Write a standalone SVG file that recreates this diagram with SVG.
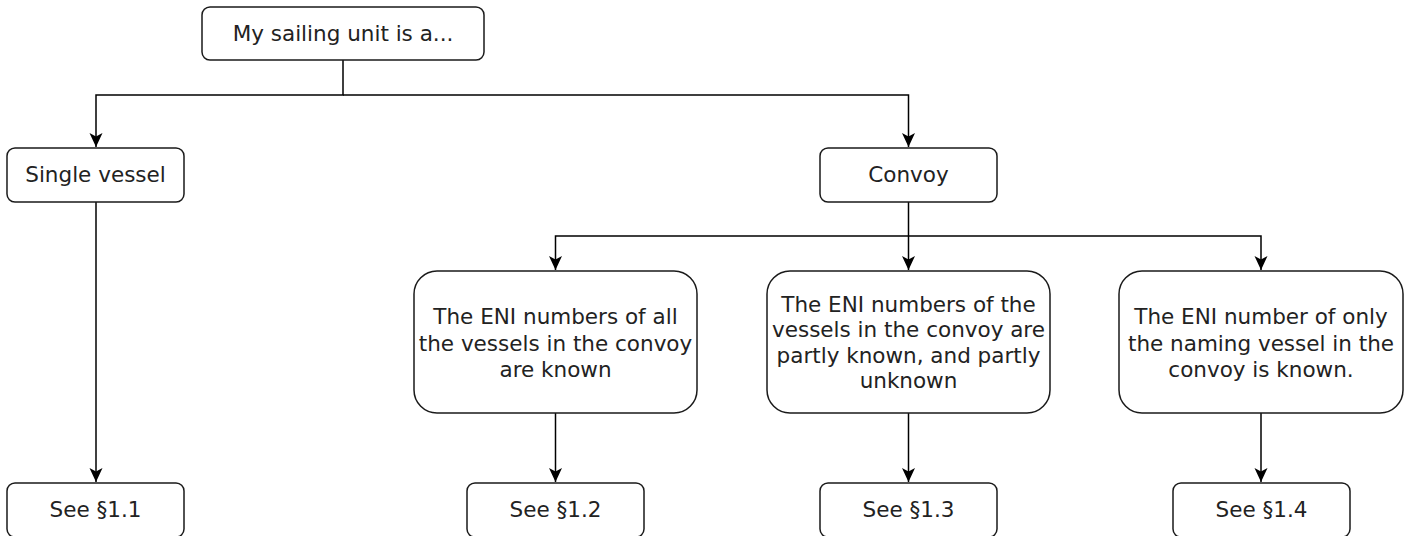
<svg xmlns="http://www.w3.org/2000/svg" width="1409" height="536" viewBox="0 0 1409 536">
<style>
.box{fill:#ffffff;stroke:#1a1a1a;stroke-width:1.5}
.t{font-family:"DejaVu Sans",Verdana,sans-serif;font-size:21.5px;fill:#222222;text-anchor:middle}
.c{fill:none;stroke:#000000;stroke-width:1.5}
</style>
<defs>
<marker id="ah" markerUnits="userSpaceOnUse" markerWidth="16" markerHeight="16" viewBox="0 0 16 16" refX="14" refY="8" orient="auto">
<path d="M0,1.5 L14,8 L0,14.5 L3.5,8 z" fill="#000000"/>
</marker>
</defs>
<rect width="1409" height="536" fill="#ffffff"/>
<g id="connectors">
<path class="c" d="M343,60 V95 H96 V147" marker-end="url(#ah)"/>
<path class="c" d="M343,95 H908.5 V147" marker-end="url(#ah)"/>
<path class="c" d="M96,202 V482" marker-end="url(#ah)"/>
<path class="c" d="M908.5,202 V270" marker-end="url(#ah)"/>
<path class="c" d="M908.5,236 H555.5 V270" marker-end="url(#ah)"/>
<path class="c" d="M908.5,236 H1261 V270" marker-end="url(#ah)"/>
<path class="c" d="M555.5,413 V482" marker-end="url(#ah)"/>
<path class="c" d="M908.5,413 V482" marker-end="url(#ah)"/>
<path class="c" d="M1261,413 V482" marker-end="url(#ah)"/>
</g>
<g id="root">
<rect class="box" x="202" y="7" width="282" height="53" rx="8"/>
<text class="t" x="343" y="41">My sailing unit is a...</text>
</g>
<g id="single">
<rect class="box" x="7" y="148" width="177" height="54" rx="8"/>
<text class="t" x="95.5" y="182">Single vessel</text>
</g>
<g id="convoy">
<rect class="box" x="820" y="148" width="177" height="54" rx="8"/>
<text class="t" x="908.5" y="182">Convoy</text>
</g>
<g id="all-known">
<rect class="box" x="414" y="271" width="283" height="142" rx="23"/>
<text class="t" x="555.5" y="324">The ENI numbers of all</text>
<text class="t" x="555.5" y="350.5">the vessels in the convoy</text>
<text class="t" x="555.5" y="377">are known</text>
</g>
<g id="partly-known">
<rect class="box" x="767" y="271" width="283" height="142" rx="23"/>
<text class="t" x="908.5" y="311.5">The ENI numbers of the</text>
<text class="t" x="908.5" y="337">vessels in the convoy are</text>
<text class="t" x="908.5" y="362.5">partly known, and partly</text>
<text class="t" x="908.5" y="388">unknown</text>
</g>
<g id="naming-known">
<rect class="box" x="1119" y="271" width="284" height="142" rx="23"/>
<text class="t" x="1261" y="324">The ENI number of only</text>
<text class="t" x="1261" y="350.5">the naming vessel in the</text>
<text class="t" x="1261" y="377">convoy is known.</text>
</g>
<g id="see-1-1">
<rect class="box" x="7" y="483" width="177" height="54" rx="8"/>
<text class="t" x="95.5" y="517">See §1.1</text>
</g>
<g id="see-1-2">
<rect class="box" x="467" y="483" width="177" height="54" rx="8"/>
<text class="t" x="555.5" y="517">See §1.2</text>
</g>
<g id="see-1-3">
<rect class="box" x="820" y="483" width="177" height="54" rx="8"/>
<text class="t" x="908.5" y="517">See §1.3</text>
</g>
<g id="see-1-4">
<rect class="box" x="1173" y="483" width="177" height="54" rx="8"/>
<text class="t" x="1261.5" y="517">See §1.4</text>
</g>
</svg>
